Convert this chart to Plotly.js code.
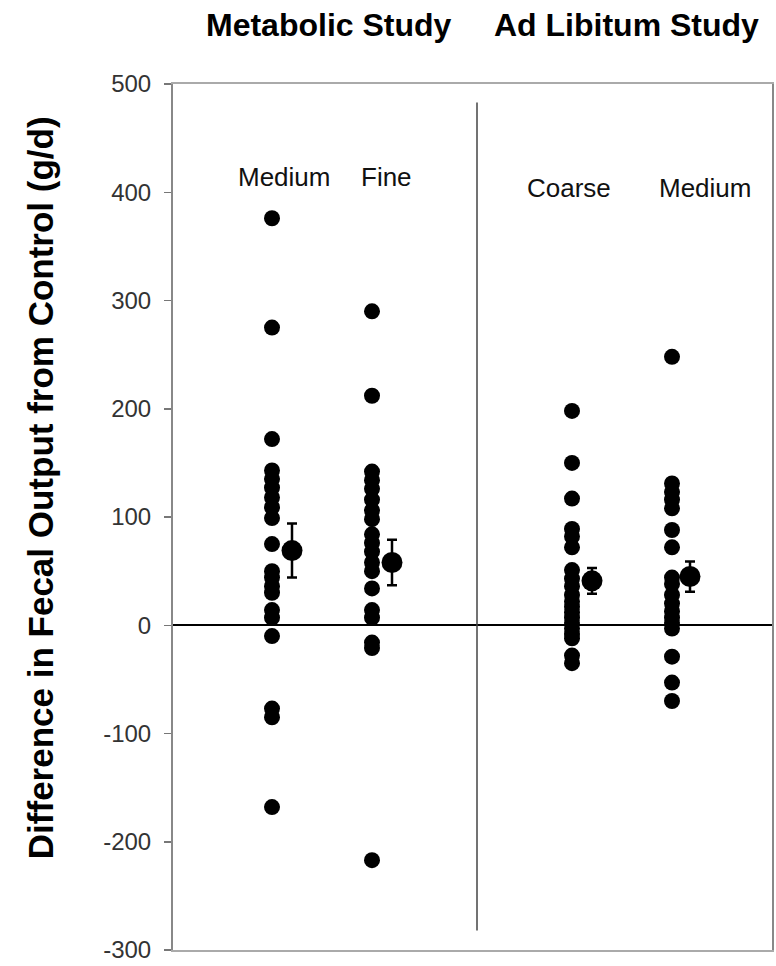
<!DOCTYPE html>
<html>
<head>
<meta charset="utf-8">
<script src="https://cdn.plot.ly/plotly-3.0.1.min.js"></script>
<style>
html,body{margin:0;padding:0;background:#fff;}
#chart{width:776px;height:966px;}
</style>
</head>
<body>
<div id="chart"></div>
<script>
// ---- data ----
const studies = ["Metabolic Study", "Ad Libitum Study"];
const categories = ["Medium", "Fine", "Coarse", "Medium"];
const yAxisTitle = "Difference in Fecal Output from Control (g/d)";
const metabolicMedium = [376, 275, 172, 143, 135, 127, 118, 109, 99, 75, 50, 44, 36, 30, 14, 7, -10, -77, -85, -168];
const metabolicFine = [290, 212, 142, 134, 126, 116, 106, 98, 84, 76, 68, 58, 50, 34, 14, 7, -16, -21, -217];
const adLibCoarse = [198, 150, 117, 89, 82, 72, 51, 43, 36, 28, 22, 17, 12, 7, 2, -3, -8, -12, -28, -35];
const adLibMedium = [248, 131, 123, 116, 108, 88, 72, 44, 38, 28, 20, 13, 7, 2, -3, -29, -53, -70];
const meanValues = [69, 58, 41, 45];
const seValues = [25, 21, 12, 14];
const yTickValues = [-300, -200, -100, 0, 100, 200, 300, 400, 500];

// ---- layout positions (x axis units) ----
const groups = [metabolicMedium, metabolicFine, adLibCoarse, adLibMedium];
const dotX = [0.99, 1.99, 3.99, 4.99];
const meanX = [1.19, 2.19, 4.19, 5.17];
const labelX = [1.11, 2.13, 3.96, 5.32];
const labelY = [414, 414, 404, 404];
const dividerX = 3.04;

const traces = [];
groups.forEach((vals, i) => {
  traces.push({
    type: 'scatter', mode: 'markers',
    x: vals.map(() => dotX[i]), y: vals,
    marker: {color: '#000', size: 16},
    showlegend: false, hoverinfo: 'y'
  });
});
traces.push({
  type: 'scatter', mode: 'markers',
  x: meanX, y: meanValues,
  marker: {color: '#000', size: 21},
  error_y: {type: 'data', array: seValues, visible: true, color: '#000', thickness: 2.5, width: 5},
  showlegend: false, hoverinfo: 'y'
});

const font = 'Liberation Sans, Arial, Helvetica, sans-serif';
const annotations = categories.map((c, i) => ({
  x: labelX[i], y: labelY[i], xref: 'x', yref: 'y',
  text: c, showarrow: false, xanchor: 'center', yanchor: 'middle',
  font: {family: font, size: 26, color: '#111'}
}));
annotations.push({
  x: 0.26, y: 1.068, xref: 'paper', yref: 'paper', text: '<b>' + studies[0] + '</b>',
  showarrow: false, xanchor: 'center', yanchor: 'middle',
  font: {family: font, size: 32, color: '#000'}
});
annotations.push({
  x: 0.757, y: 1.068, xref: 'paper', yref: 'paper', text: '<b>' + studies[1] + '</b>',
  showarrow: false, xanchor: 'center', yanchor: 'middle',
  font: {family: font, size: 32, color: '#000'}
});
annotations.push({
  x: -0.221, y: 0.534, xref: 'paper', yref: 'paper', text: '<b>' + yAxisTitle + '</b>',
  textangle: -90, showarrow: false, xanchor: 'center', yanchor: 'middle',
  font: {family: font, size: 35, color: '#000'}
});

const layout = {
  width: 776, height: 966,
  margin: {l: 173, r: 4, t: 84, b: 16},
  paper_bgcolor: '#fff', plot_bgcolor: '#fff',
  showlegend: false,
  xaxis: {
    range: [0, 5.99], showgrid: false, zeroline: false,
    showticklabels: false, ticks: '',
    showline: true, linecolor: '#aaa', linewidth: 2, mirror: true
  },
  yaxis: {
    range: [-300, 500], tickvals: yTickValues, ticktext: yTickValues.map(String),
    showgrid: false, zeroline: true, zerolinecolor: '#000', zerolinewidth: 2,
    ticks: 'outside', ticklen: 7, tickcolor: '#777', tickwidth: 1.5,
    showline: true, linecolor: '#888', linewidth: 2, mirror: true,
    ticklabelstandoff: 8,
    tickfont: {family: font, size: 24, color: '#333'}
  },
  shapes: [{
    type: 'line', xref: 'x', yref: 'y', x0: dividerX, x1: dividerX, y0: 483, y1: -282,
    line: {color: '#444', width: 1.5}
  }],
  annotations: annotations
};

Plotly.newPlot('chart', traces, layout, {staticPlot: true, displayModeBar: false});
</script>
</body>
</html>
